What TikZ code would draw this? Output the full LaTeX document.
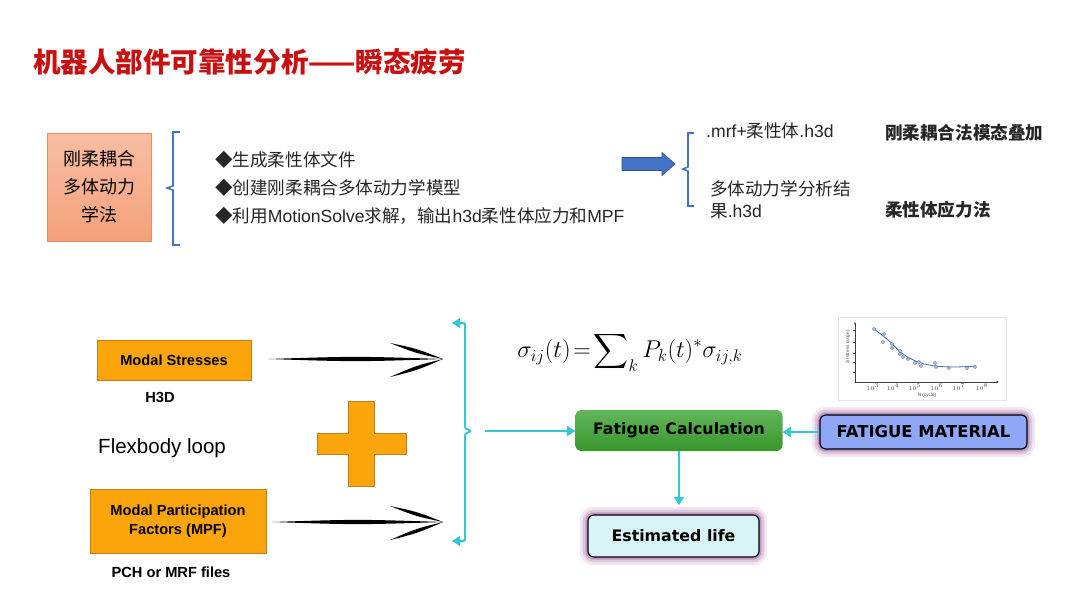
\documentclass[tikz,border=0pt]{standalone}
\usepackage{amsmath}
\usepackage{fontspec}
\setmainfont{Liberation Sans}
\newfontfamily\cjk{Noto Sans CJK SC}
\newfontfamily\arial{Liberation Sans}
\newfontfamily\dejavu{DejaVu Sans}
\usetikzlibrary{arrows.meta,positioning,calc}

\definecolor{titlered}{RGB}{200,16,16}
\definecolor{salmontop}{RGB}{249,190,164}
\definecolor{salmonbot}{RGB}{244,160,122}
\definecolor{salmonline}{RGB}{240,140,96}
\definecolor{bracketblue}{RGB}{68,114,196}
\definecolor{arrowblue}{RGB}{47,85,151}
\definecolor{boxorange}{RGB}{252,165,10}
\definecolor{orangeline}{RGB}{196,124,30}
\definecolor{flowcyan}{RGB}{48,200,212}
\definecolor{greentop}{RGB}{98,182,90}
\definecolor{greenbot}{RGB}{56,150,44}
\definecolor{matblue}{RGB}{143,168,246}
\definecolor{lifecyan}{RGB}{217,244,246}
\definecolor{glowpurple}{RGB}{140,70,150}
\definecolor{snblue}{RGB}{70,110,170}

% one tapered brush stroke between two points
\newcommand\brushstroke[3]{%
  \fill[black] (#1) .. controls ($(#1)!0.5!(#2)!#3!90:(#2)$) .. (#2)
    .. controls ($(#1)!0.5!(#2)!#3!-90:(#2)$) .. (#1) -- cycle;}
% hand drawn arrow: shaft and two head strokes
\newcommand\brusharrow[2]{%
  \path ($(#2)+(-53,-16)$) coordinate (headA) ($(#2)+(-53,18)$) coordinate (headB);
  \brushstroke{#1}{#2}{2.4pt}
  \brushstroke{headA}{#2}{2pt}
  \brushstroke{headB}{#2}{2pt}}

\begin{document}
\begin{tikzpicture}[
  x=0.03cm,y=-0.03cm,
  cjktext/.style={font=\cjk\fontsize{15}{18}\selectfont,text=black!85,inner sep=0pt},
  sidetext/.style={font=\cjk\fontsize{15}{18.7}\selectfont,text=black!85,inner sep=0pt,align=left},
  sidebold/.style={sidetext,font=\cjk\bfseries\fontsize{15}{18}\selectfont},
  salmonbox/.style={draw=salmonline,top color=salmontop,bottom color=salmonbot,minimum width=3.12cm,minimum height=3.24cm,align=center,font=\cjk\fontsize{15.3}{23.8}\selectfont},
  bracket/.style={draw=bracketblue,line width=1.3pt},
  orangebox/.style={draw=orangeline,fill=boxorange,line width=0.8pt,align=center,font=\bfseries\fontsize{12.5}{16}\selectfont},
  boldlabel/.style={font=\bfseries\fontsize{12.5}{15}\selectfont,inner sep=0pt},
  glow/.style={preaction={draw=glowpurple,draw opacity=0.12,line width=14pt},
               preaction={draw=glowpurple,draw opacity=0.2,line width=9pt},
               preaction={draw=glowpurple,draw opacity=0.35,line width=4.5pt}},
  calcbox/.style={top color=greentop,bottom color=greenbot,rounded corners=5pt,minimum width=6.21cm,minimum height=1.23cm,font=\dejavu\bfseries\fontsize{13.5}{16}\selectfont},
  matbox/.style={glow,draw=black,line width=1pt,fill=matblue,rounded corners=5pt,minimum width=6.21cm,minimum height=1.02cm,font=\dejavu\bfseries\fontsize{14}{16}\selectfont},
  lifebox/.style={glow,draw=black,line width=1pt,fill=lifecyan,rounded corners=5pt,minimum width=5.13cm,minimum height=1.26cm,font=\dejavu\bfseries\fontsize{13.5}{16}\selectfont},
  flow/.style={draw=flowcyan,line width=1.7pt,-{Triangle[length=7pt,width=8.5pt]}},
  snpoint/.style={draw=snblue,fill=snblue!35,line width=0.4pt},
  ticklabel/.style={font=\fontsize{4}{4}\selectfont,text=black!70,inner sep=0pt}
]
\useasboundingbox (0,0) rectangle (1080,608);
\fill[white] (0,0) rectangle (1080,608);

% title
\node[anchor=west,inner sep=0pt,text=titlered,font=\cjk\bfseries\fontsize{23.5}{26}\selectfont] (title) at (33,62) {机器人部件可靠性分析——瞬态疲劳};

% upper part
\node[salmonbox] (rigid) at (99.5,187) {刚柔耦合\\多体动力\\学法};
\draw[bracket] (180,132) -- (173,132) -- (173,186) -- (167,188) -- (173,190) -- (173,245) -- (180,245);

\node[cjktext,anchor=west] (b1) at (215,160) {◆生成柔性体文件};
\node[cjktext,anchor=west] (b2) at (215,188) {◆创建刚柔耦合多体动力学模型};
\node[cjktext,anchor=west] (b3) at (215,216) {◆利用{\arial MotionSolve}求解，输出{\arial h3d}柔性体应力和{\arial MPF}};

\filldraw[fill=bracketblue,draw=arrowblue,line width=0.6pt]
  (622,157.5) -- (662,157.5) -- (662,152.5) -- (675,164) -- (662,175.5) -- (662,170.5) -- (622,170.5) -- cycle;
\draw[bracket] (694,133) -- (688,133) -- (688,167) -- (683,169) -- (688,171) -- (688,206) -- (694,206);

\node[sidetext,anchor=west] (mrf) at (706,131) {{\arial .mrf+}柔性体{\arial .h3d}};
\node[sidetext,anchor=west] (mbd) at (710,200) {多体动力学分析结\\果{\arial .h3d}};
\node[sidebold,anchor=west] (modal) at (885,133) {刚柔耦合法模态叠加};
\node[sidebold,anchor=west] (stress) at (885,210) {柔性体应力法};

% lower part
\node[orangebox,minimum width=4.62cm,minimum height=1.2cm] (ms) at (174,360) {Modal Stresses};
\node[boldlabel] (h3d) at (160,397) {H3D};
\node[anchor=west,inner sep=0pt,font=\fontsize{17.5}{20}\selectfont] (flex) at (98,448) {Flexbody loop};
\node[orangebox,minimum width=5.28cm,minimum height=1.92cm] (mpf) at (178,521) {Modal Participation\\Factors (MPF)};
\node[boldlabel] (pch) at (171,572) {PCH or MRF files};

\filldraw[fill=boxorange,draw=orangeline,line width=0.6pt]
  (348,401) -- (374,401) -- (374,433) -- (406,433) -- (406,454) -- (374,454) -- (374,486)
  -- (348,486) -- (348,454) -- (317,454) -- (317,433) -- (348,433) -- cycle;

\coordinate (msTail) at ($(ms.east)+(17,-1)$);
\coordinate (msTip) at (443,359);
\coordinate (mpfTail) at ($(mpf.east)+(6,1)$);
\coordinate (mpfTip) at (443,522);
\brusharrow{msTail}{msTip}
\brusharrow{mpfTail}{mpfTip}

% cyan brace
\coordinate (topEnd) at (452,323);
\coordinate (botEnd) at (452,541);
\coordinate (braceTip) at (471,431);
\coordinate (braceOut) at (485,431);
\draw[flow,rounded corners=1pt] (braceTip) -- (465,428) -- (465,323) -- (topEnd);
\draw[flow,rounded corners=1pt] (braceTip) -- (465,434) -- (465,541) -- (botEnd);

\node[font=\fontsize{21}{25}\selectfont] (sigma) at (630,352) {$\sigma_{ij}(t)\!=\!\displaystyle\sum\nolimits_k P_k(t)^{*}\sigma_{ij,k}$};

% S-N curve
\filldraw[fill=white,draw=black!10] (838,317) rectangle (1006,400);
\draw[black!75,line width=0.5pt,-{Latex[length=2pt,width=2pt]}] (855,382) -- (855,322);
\draw[black!75,line width=0.5pt,-{Latex[length=2pt,width=2pt]}] (855,382) -- (999,382);
\foreach \yy in {330,342,353,362,372}
  \draw[black!75,line width=0.4pt] (853,\yy) -- (855,\yy);
\foreach \xx/\ee in {873/3,893/4,915/5,937/6,959/7,982/8}
  \node[ticklabel] at (\xx,387) {$10^{\ee}$};
\node[ticklabel] at (927,395) {N (cycle)};
\node[ticklabel,rotate=90] at (848,347) {S (stress range)};
\draw[snblue,line width=0.7pt] plot[smooth] coordinates {(874,329) (888,340) (903,354) (918,362) (935,366) (955,367) (976,366)};
\foreach \px/\py in {874/329,884/334,883/342,892/344,892/348,900/351,900/354,903/357,908/359,915/363,919/362,921/366,935/363,936/367,949/368,967/368,975/367}
  \filldraw[snpoint] (\px,\py) circle (1.6);

% fatigue flow
\node[calcbox] (fc) at (679,430.5) {Fatigue Calculation};
\node[matbox] (fm) at (923.5,432) {FATIGUE MATERIAL};
\node[lifebox] (el) at (673.5,536) {Estimated life};
\draw[flow] (braceOut) -- (fc.west |- braceOut);
\draw[flow] (fm.west) -- (fc.east |- fm.west);
\draw[flow,shorten >=8pt] (fc.south) -- (fc.south |- el.north);

\end{tikzpicture}
\end{document}
